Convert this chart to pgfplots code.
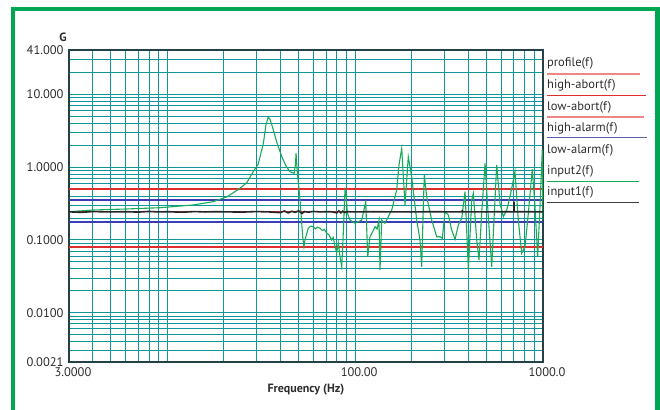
\documentclass[border=0pt]{standalone}
\usepackage{pgfplots}
\pgfplotsset{compat=1.18}
\usepackage{fontspec}
\setmainfont{PT Sans}
\definecolor{framegreen}{RGB}{0,166,81}
\definecolor{gridteal}{RGB}{15,150,155}
\definecolor{axisdark}{RGB}{35,65,70}
\definecolor{curvegreen}{RGB}{25,170,85}
\definecolor{abortred}{RGB}{222,45,45}
\definecolor{profpink}{RGB}{240,135,135}
\definecolor{alarmblue}{RGB}{60,60,180}
\definecolor{legblue}{RGB}{90,95,170}
\definecolor{labelgray}{RGB}{45,45,45}
\begin{document}
\begin{tikzpicture}[x=1pt,y=1pt]
\useasboundingbox (0,0) rectangle (660,409);
\begin{axis}[
  at={(69pt,47pt)}, anchor=south west, scale only axis,
  width=474pt, height=312pt,
  xmode=log, ymode=log,
  xmin=3, xmax=1000, ymin=0.0021, ymax=41,
  xtick={3,100,1000}, xticklabels={3.0000,100.00,1000.0},
  ytick={0.0021,0.01,0.1,1,10,41},
  yticklabels={0.0021,0.0100,0.1000,1.0000,10.000,41.000},
  minor xtick={4,5,6,7,8,9,10,20,30,40,50,60,70,80,90,200,300,400,500,600,700,800,900},
  minor ytick={0.003,0.004,0.005,0.006,0.007,0.008,0.009,0.02,0.03,0.04,0.05,0.06,0.07,0.08,0.09,0.2,0.3,0.4,0.5,0.6,0.7,0.8,0.9,2,3,4,5,6,7,8,9,20,30,40},
  grid=both,
  major grid style={gridteal, line width=1pt},
  minor grid style={gridteal, line width=1pt},
  major tick length=0pt, minor tick length=0pt,
  axis line style={axisdark, line width=1.6pt},
  ticklabel style={font=\fontsize{12.5}{14}\selectfont, text=labelgray},
  yticklabel style={xshift=-2pt},
  xticklabel style={xshift=4pt, yshift=-2pt},
  /pgf/number format/assume math mode=true,
  xlabel={Frequency (Hz)},
  xlabel style={at={(axis description cs:0.5,0)}, anchor=center, yshift=-28pt, font=\fontsize{12}{14}\selectfont\bfseries, text=labelgray},
  ylabel={G},
  ylabel style={at={(axis description cs:0,1)}, rotate=-90, anchor=center, xshift=-6pt, yshift=13pt, font=\fontsize{12}{14}\selectfont\bfseries, text=labelgray},
]
% high-abort
\addplot[abortred, line width=1.6pt] coordinates {(3,0.5) (1000,0.5)};
% low-abort
\addplot[abortred, line width=1.6pt] coordinates {(3,0.080) (1000,0.080)};
% high-alarm
\addplot[alarmblue, line width=1.6pt] coordinates {(3,0.354) (1000,0.354)};
% low-alarm
\addplot[alarmblue, line width=1.6pt] coordinates {(3,0.177) (1000,0.177)};
% profile
\addplot[abortred, line width=1pt] coordinates {(3,0.25) (1000,0.25)};
% input2
\addplot[curvegreen, line width=1.1pt] coordinates {
(3,0.245) (4.04,0.2585) (6.08,0.267) (9.15,0.278) (13.7,0.303) (17.5,0.336) (20.7,0.390)
(24.4,0.514) (26.5,0.614) (28.7,0.870) (30.5,1.11) (32.5,2.14) (33.5,3.81) (34.5,4.87)
(35.2,4.61) (36.7,3.26) (38.4,2.16) (40.7,1.40) (42.9,1.04) (45.0,0.870) (47.3,0.827)
(48.1,1.075) (48.5,1.56) (49.2,0.870) (50.9,0.355) (52.6,0.111) (53.4,0.0809) (54.1,0.100)
(56.3,0.145) (58.0,0.155) (59.9,0.152) (61.5,0.142) (63.0,0.150) (65.0,0.145) (67.0,0.135)
(68.5,0.140) (70.6,0.124) (72.5,0.118) (75.0,0.100) (76.5,0.108) (78.2,0.081) (79.8,0.0663)
(81.4,0.0910) (83.1,0.0589) (84.9,0.0429) (86.5,0.125) (88.3,0.487) (89.4,0.443) (90.9,0.235)
(93.9,0.188) (99.9,0.170) (108.4,0.188) (113.9,0.336) (116.7,0.0589) (120.0,0.111) (124.0,0.130)
(127.6,0.152) (131.0,0.142) (134.0,0.188) (135.7,0.0387) (138.5,0.188) (144.2,0.170) (156.6,0.259)
(166.5,0.487) (171.2,1.075) (177.0,1.82) (184.3,0.303) (191.9,1.40) (200.0,0.742) (212.7,0.188)
(221.5,0.100) (226.2,0.0429) (230.6,0.287) (233.5,0.783) (240.4,0.394) (255.6,0.188) (271.8,0.111)
(283.0,0.111) (291.1,0.1055) (300.9,0.245) (313.3,0.221) (326.7,0.137) (340.3,0.102) (354.4,0.161)
(369.4,0.199) (384.7,0.462) (400.6,0.0387) (417.4,0.355) (425.7,0.439) (443.8,0.100) (456.5,0.0531)
(471.8,0.235) (491.4,1.134) (511.5,0.209) (533.4,0.0429) (566.8,1.075) (590.4,0.320) (614.9,0.209)
(641.2,0.259) (667.3,0.394) (709.6,0.870) (738.8,0.188) (770.2,0.0657) (801.9,0.0809) (828.8,0.188)
(877.1,0.938) (906.5,0.287) (936.9,0.0589) (963.6,0.287) (991.1,1.73) (1000,0.188)
};
% input1
\addplot[black!85, line width=1.6pt] coordinates {
(3,0.244) (3.5,0.240) (4,0.246) (5,0.243) (6,0.245) (7,0.242) (8,0.247) (9,0.243) (10,0.245)
(12,0.241) (14,0.246) (16,0.243) (18,0.245) (20,0.244) (25,0.242) (30,0.246) (35,0.243)
(40,0.238) (42,0.250) (44,0.236) (46,0.248) (48,0.240) (50,0.252) (52,0.232) (54,0.246)
(56,0.241) (60,0.247) (65,0.243) (70,0.245) (75,0.244) (80,0.237) (82,0.251) (84,0.236)
(86,0.249) (88,0.238) (90,0.245) (100,0.243) (120,0.245) (150,0.244) (200,0.243) (250,0.245)
(300,0.244) (369,0.244) (372,0.252) (375,0.244) (400,0.244) (500,0.243) (600,0.245) (700,0.244)
(701,0.336) (703,0.244) (800,0.245) (900,0.244) (1000,0.244)
};
\end{axis}
% frame
\draw[framegreen, line width=4.5pt] (13,-5) -- (13,400) -- (657.5,400) -- (657.5,-5);
% legend
\begin{scope}[every node/.style={anchor=west, inner sep=0pt, font=\fontsize{12.5}{14}\selectfont, text=labelgray}]
\node at (547,346) {profile(f)};
\draw[profpink, line width=1.8pt] (547,335) -- (640,335);
\node at (547,324) {high-abort(f)};
\draw[abortred, line width=1.2pt] (547,313.3) -- (646,313.3);
\node at (547,302) {low-abort(f)};
\draw[profpink, line width=1.8pt] (547,292) -- (644,292);
\node at (547,281) {high-alarm(f)};
\draw[legblue, line width=1.2pt] (547,271.3) -- (647,271.3);
\node at (547,259) {low-alarm(f)};
\node at (547,238) {input2(f)};
\draw[curvegreen, line width=1.5pt] (547,227.3) -- (639,227.3);
\node at (547,217) {input1(f)};
\draw[black!75, line width=1.5pt] (547,206.7) -- (639,206.7);
\end{scope}
\end{tikzpicture}
\end{document}
